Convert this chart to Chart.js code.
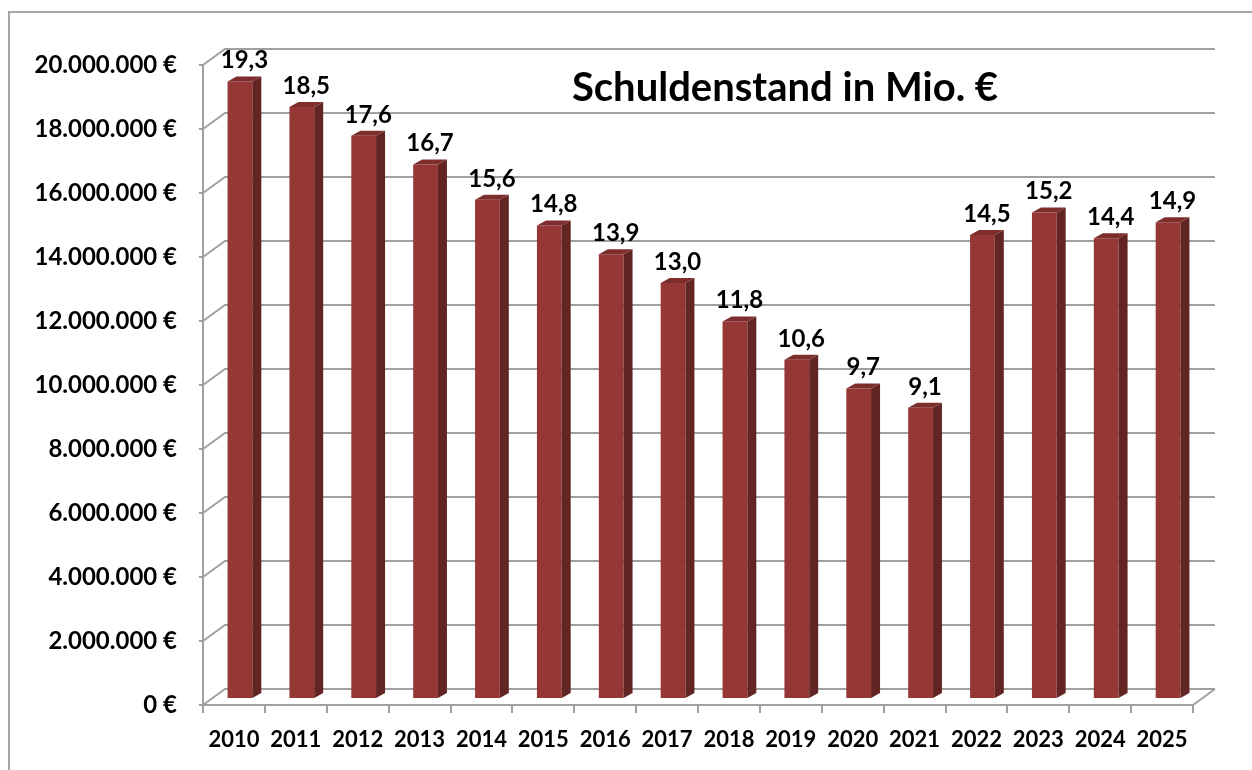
<!DOCTYPE html>
<html>
<head>
<meta charset="utf-8">
<script src="https://cdn.jsdelivr.net/npm/chart.js@4"></script>
<style>
  html, body { margin: 0; padding: 0; background: #fff; }
  #wrap { width: 1252px; height: 770px; position: relative; }
</style>
</head>
<body>
<div id="wrap"><canvas id="debtChart" width="1252" height="770"></canvas></div>
<script>
const years = ["2010", "2011", "2012", "2013", "2014", "2015", "2016", "2017",
               "2018", "2019", "2020", "2021", "2022", "2023", "2024", "2025"]
const debtEuro = [19300000, 18500000, 17600000, 16700000, 15600000, 14800000, 13900000, 13000000,
                  11800000, 10600000, 9700000, 9100000, 14500000, 15200000, 14400000, 14900000]
const yTicks = [0, 2000000, 4000000, 6000000, 8000000, 10000000, 12000000, 14000000, 16000000, 18000000, 20000000]
const chartTitle = "Schuldenstand in Mio. €"

const FONT = "Lato"
const GRID = "#a0a0a0"
const wall = { dx: 22, dy: -16 }   // back wall offset
const barShift = { dx: 6, dy: -6 } // bars sit mid-depth
const depth = { dx: 9, dy: -5 }    // bar thickness

const fmtEuro = v => v.toLocaleString("de-DE") + " €"
const fmtMio = v => (v / 1000000).toFixed(1).replace(".", ",")

// back wall, floor and side diagonals
const wallPlugin = {
    id: "wall",
    beforeDatasetsDraw(chart)
    {
        const ctx = chart.ctx
        const y = chart.scales.y
        const x = chart.scales.x
        const L = x.left, R = x.right
        ctx.save()
        ctx.strokeStyle = GRID
        ctx.lineWidth = 2
        yTicks.forEach(t =>
        {
            const py = y.getPixelForValue(t)
            ctx.beginPath()
            ctx.moveTo(L, py)
            ctx.lineTo(L + wall.dx, py + wall.dy)
            ctx.lineTo(R + wall.dx, py + wall.dy)
            ctx.stroke()
        })
        const p0 = y.getPixelForValue(0)
        ctx.beginPath()
        ctx.moveTo(R, p0)
        ctx.lineTo(R + wall.dx, p0 + wall.dy)
        ctx.stroke()
        ctx.restore()

        ctx.save()
        ctx.translate(barShift.dx, barShift.dy)
    },
    afterDatasetsDraw(chart)
    {
        const ctx = chart.ctx
        const meta = chart.getDatasetMeta(0)
        meta.data.forEach((bar, i) =>
        {
            const l = bar.x - bar.width / 2
            const r = bar.x + bar.width / 2
            const top = bar.y
            const base = bar.base
            // side face
            ctx.fillStyle = "#632523"
            ctx.beginPath()
            ctx.moveTo(r, top)
            ctx.lineTo(r + depth.dx, top + depth.dy)
            ctx.lineTo(r + depth.dx, base + depth.dy)
            ctx.lineTo(r, base)
            ctx.closePath()
            ctx.fill()
            // top face
            ctx.fillStyle = "#7d2d2b"
            ctx.beginPath()
            ctx.moveTo(l, top)
            ctx.lineTo(l + depth.dx, top + depth.dy)
            ctx.lineTo(r + depth.dx, top + depth.dy)
            ctx.lineTo(r, top)
            ctx.closePath()
            ctx.fill()
            // value label
            ctx.fillStyle = "#000"
            ctx.font = "bold 24px " + FONT
            ctx.textAlign = "center"
            ctx.textBaseline = "middle"
            ctx.fillText(fmtMio(debtEuro[i]), bar.x + depth.dx / 2, top - 21)
        })
        ctx.restore()
    },
    afterDraw(chart)
    {
        const ctx = chart.ctx
        ctx.save()
        ctx.strokeStyle = "#a6a6a6"
        ctx.lineWidth = 2
        ctx.beginPath()
        ctx.moveTo(9, 800)
        ctx.lineTo(9, 12)
        ctx.lineTo(1300, 12)
        ctx.stroke()
        ctx.fillStyle = "#000"
        ctx.font = "bold 40px " + FONT
        ctx.textAlign = "center"
        ctx.textBaseline = "middle"
        ctx.fillText(chartTitle, 785, 88)
        ctx.restore()
    }
}

const chartConfig = {
    type: "bar",
    data: {
        labels: years,
        datasets: [{
            label: chartTitle,
            data: debtEuro,
            backgroundColor: "#953735",
            borderWidth: 0,
            barPercentage: 0.4,
            categoryPercentage: 1.0,
        }],
    },
    options: {
        responsive: false,
        animation: false,
        layout: {
            padding: { left: 0, top: 65, right: 59, bottom: 0 }
        },
        plugins: {
            legend: { display: false },
            tooltip: { enabled: false },
            title: { display: false },
        },
        scales: {
            x: {
                afterFit: s => { s.height = 65 },
                grid: {
                    offset: true,
                    drawOnChartArea: false,
                    color: GRID,
                    lineWidth: 2,
                    tickLength: 8,
                },
                border: { color: GRID, width: 2 },
                ticks: {
                    color: "#000",
                    font: { family: FONT, size: 22, weight: "bold" },
                    padding: 14,
                    maxRotation: 0,
                },
            },
            y: {
                min: 0,
                max: 20000000,
                afterFit: s => { s.width = 203 },
                afterBuildTicks: s => { s.ticks = yTicks.map(v => ({ value: v })) },
                grid: {
                    drawOnChartArea: false,
                    color: GRID,
                    lineWidth: 2,
                    tickLength: 4,
                },
                border: { color: GRID, width: 2 },
                ticks: {
                    color: "#000",
                    font: { family: FONT, size: 24, weight: "bold" },
                    padding: 22,
                    callback: v => fmtEuro(v),
                },
            },
        },
    },
    plugins: [wallPlugin],
}

const debtChart = new Chart(document.getElementById("debtChart"), chartConfig)
</script>
</body>
</html>
